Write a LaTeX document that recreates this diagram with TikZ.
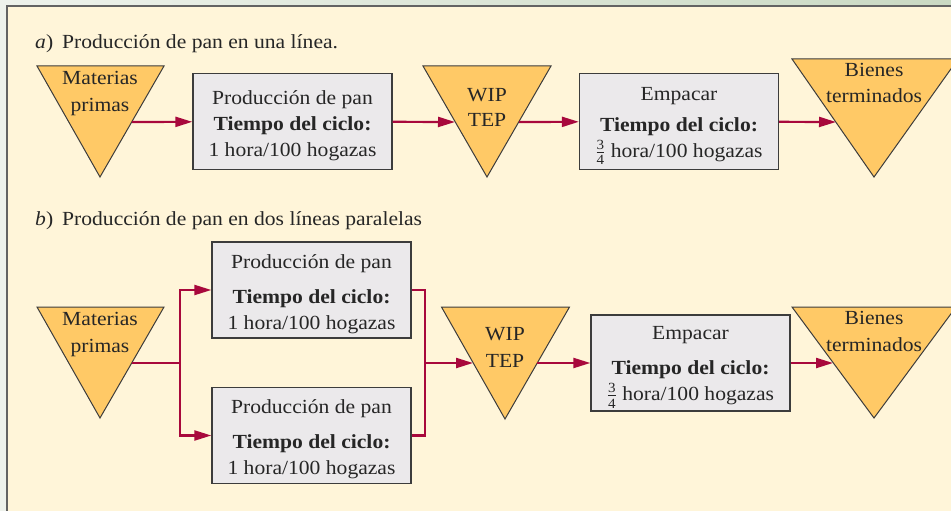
\documentclass[tikz,border=0pt]{standalone}
\usepackage{fontspec}
\setmainfont{Liberation Serif}[FakeStretch=1.08]
\usepackage{amsmath}
\usetikzlibrary{arrows.meta, positioning}

\definecolor{cream}{HTML}{FFF5D9}
\definecolor{stockfill}{HTML}{FFC966}
\definecolor{boxfill}{HTML}{EBE9EB}
\definecolor{flowred}{HTML}{A8083C}
\definecolor{edgegray}{HTML}{3C3C3C}
\definecolor{outerL}{HTML}{EEF2EC}
\definecolor{outerR}{HTML}{CAD9C3}

\newcommand{\toppad}{\rule{0pt}{22pt}}

\begin{document}
\begin{tikzpicture}[x=1pt, y=-1pt, on grid,
    txt/.style={font=\fontsize{20}{26}\selectfont, text=black!85, align=center, inner sep=0pt},
    stock/.style={fill=stockfill, draw=edgegray, line width=1pt, line join=miter},
    proc/.style={txt, draw=edgegray, fill=boxfill, line width=1.3pt, minimum width=199pt, minimum height=96pt},
    flow/.style={draw=flowred, line width=2.2pt, -{Triangle[length=17pt, width=10pt]}},
    flowline/.style={draw=flowred, line width=2.2pt}]

    \useasboundingbox (0,0) rectangle (951,511);
    \shade[left color=outerL, right color=outerR] (0,0) rectangle (951,511);
    \filldraw[fill=cream, draw=edgegray!80, line width=1.5pt] (7,6) rectangle (970,530);

    % a) una linea
    \node[txt, anchor=base west] (ta) at (35,49) {\textit{a})\hspace{0.45em}Producción de pan en una línea.};

    \filldraw[stock] (37,66) -- (164,66) -- (100,177) -- cycle;
    \node[txt, anchor=north] (mp1) at (100,71) {Materias\\[1pt]primas};
    \coordinate (mp1out) at (132,122);

    \node[proc] (pa) at (292.5,121.5) {\toppad Producción de pan\\\textbf{Tiempo del ciclo:}\\1 hora/100 hogazas};

    \filldraw[stock] (423,66) -- (551,66) -- (487,177) -- cycle;
    \node[txt, anchor=north] (wip1) at (487,88.5) {WIP\\[-1pt]TEP};
    \coordinate (wip1in) at (455,122);
    \coordinate (wip1out) at (519,122);

    \node[proc] (ea) [right=386.5pt of pa] {\toppad Empacar\\[5pt]\textbf{Tiempo del ciclo:}\\$\tfrac{\text{3}}{\text{4}}$ hora/100 hogazas};

    \filldraw[stock] (792,59) -- (958,59) -- (874,177) -- cycle;
    \node[txt, anchor=north] (bt1) at (874,63.5) {Bienes\\terminados};
    \coordinate (bt1in) at (836,122);

    \draw[flow] (mp1out) -- (pa);
    \draw[flow] (pa) -- (wip1in);
    \draw[flow] (wip1out) -- (ea);
    \draw[flow] (ea) -- (bt1in);

    % b) dos lineas paralelas
    \node[txt, anchor=base west] (tb) at (35,225) {\textit{b})\hspace{0.45em}Producción de pan en dos líneas paralelas};

    \filldraw[stock] (37,307) -- (164,307) -- (100,418) -- cycle;
    \node[txt, anchor=north] (mp2) at (100,312) {Materias\\[1pt]primas};
    \coordinate (mp2out) at (132,363);
    \coordinate (split) at (180,363);

    \node[proc] (pb1) at (311.5,290) {\toppad Producción de pan\\[9pt]\textbf{Tiempo del ciclo:}\\1 hora/100 hogazas};
    \node[proc] (pb2) [below=145.5pt of pb1] {\toppad Producción de pan\\[9pt]\textbf{Tiempo del ciclo:}\\1 hora/100 hogazas};
    \coordinate (merge) at (425,363);

    \filldraw[stock] (441.5,307) -- (569.5,307) -- (505,419) -- cycle;
    \node[txt, anchor=north] (wip2) at (505,327) {WIP\\[1pt]TEP};
    \coordinate (wip2in) at (473,363);
    \coordinate (wip2out) at (537,363);

    \node[proc] (eb) at (690.5,363) {\toppad Empacar\\[9pt]\textbf{Tiempo del ciclo:}\\$\tfrac{\text{3}}{\text{4}}$ hora/100 hogazas};

    \filldraw[stock] (792,307) -- (956,307) -- (874,418) -- cycle;
    \node[txt, anchor=north] (bt2) at (874,311.5) {Bienes\\[1pt]terminados};
    \coordinate (bt2in) at (833,363);

    \draw[flowline] (mp2out) -- (split);
    \draw[flow] (split) |- (pb1);
    \draw[flow] (split) |- (pb2);
    \draw[flowline] (pb1) -| (merge) |- (pb2);
    \draw[flow] (merge) -- (wip2in);
    \draw[flow] (wip2out) -- (eb);
    \draw[flow] (eb) -- (bt2in);

\end{tikzpicture}
\end{document}
